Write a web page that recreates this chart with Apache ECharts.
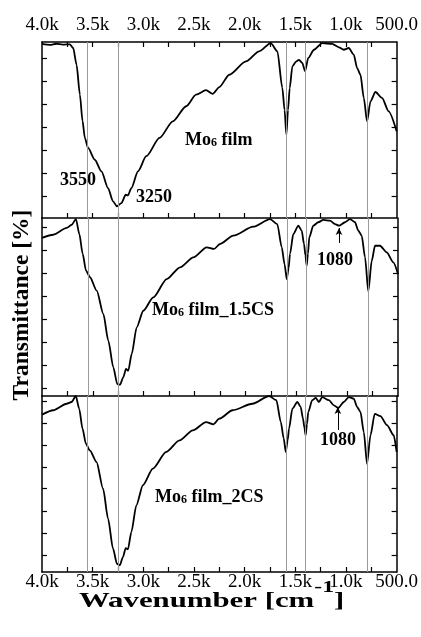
<!DOCTYPE html>
<html>
<head>
<meta charset="utf-8">
<script src="https://cdn.jsdelivr.net/npm/echarts@6/dist/echarts.min.js"></script>
<style>
  html, body { margin: 0; padding: 0; background: #fff; }
  #chart { width: 421px; height: 637px; }
</style>
</head>
<body>
<div id="chart"></div>
<script>
// Mo6 film
const filmWn = [4000, 3920, 3860, 3795, 3725, 3692, 3659, 3626, 3600, 3577,
  3545, 3479, 3413, 3348, 3299, 3260, 3216, 3174, 3152, 3118,
  3053, 2971, 2840, 2709, 2577, 2479, 2381, 2316, 2250, 2152,
  1987, 1857, 1742, 1677, 1628, 1606, 1588, 1572, 1555, 1529,
  1490, 1463, 1431, 1404, 1372, 1316, 1234, 1136, 1070, 1021,
  972, 923, 890, 857, 824, 792, 758, 709, 644, 579, 500]
const filmT = [98.9, 98.4, 99.0, 98.5, 98.7, 96.6, 87.1, 70.1, 55.1, 45.5,
  39.8, 33.1, 26.5, 17.0, 9.5, 6.6, 8.5, 13.2, 12.9, 17.0,
  26.5, 35.1, 45.5, 54.9, 63.5, 70.1, 72.6, 70.5, 74.4, 81.4,
  89.0, 94.7, 99.4, 94.7, 73.9, 61.4, 47.3, 61.4, 73.9, 86.2,
  89.0, 89.9, 88.1, 83.4, 90.9, 95.6, 99.4, 98.9, 97.0, 95.6,
  96.6, 92.8, 85.2, 81.4, 68.2, 54.9, 66.3, 71.6, 68.2, 60.6, 49.3]

// Mo6 film_1.5CS
const cs15Wn = [4000, 3889, 3757, 3708, 3666, 3633, 3600, 3567, 3528, 3462,
  3397, 3348, 3299, 3260, 3233, 3201, 3174, 3152, 3118, 3069,
  3004, 2906, 2774, 2643, 2512, 2381, 2309, 2250, 2119, 1923,
  1758, 1687, 1643, 1615, 1594, 1575, 1562, 1529, 1480, 1447,
  1424, 1410, 1398, 1385, 1372, 1333, 1284, 1234, 1169, 1119,
  1080, 1021, 972, 923, 890, 857, 824, 792, 758, 726,
  677, 611, 546, 500]
const cs15T = [88.8, 90.6, 94.4, 96.2, 99.4, 91.0, 79.8, 70.4, 66.7, 59.2,
  46.1, 31.1, 16.1, 6.7, 6.3, 10.5, 15.2, 14.2, 23.6, 38.6,
  47.9, 55.4, 65.7, 72.3, 77.9, 83.5, 82.6, 85.4, 90.1, 95.1,
  99.4, 96.6, 83.5, 74.0, 65.7, 72.0, 79.8, 91.0, 95.7, 92.9,
  85.4, 79.0, 73.2, 80.0, 89.2, 95.7, 97.6, 98.9, 98.5, 96.6,
  95.7, 97.6, 99.4, 97.6, 92.9, 90.1, 77.9, 58.8, 76.0, 84.4,
  84.4, 80.7, 75.1, 68.5]

// Mo6 film_2CS
const cs2Wn = [4000, 3889, 3757, 3708, 3666, 3633, 3600, 3567, 3528, 3462,
  3397, 3348, 3299, 3260, 3233, 3201, 3174, 3152, 3118, 3069,
  3004, 2906, 2774, 2643, 2512, 2381, 2309, 2250, 2119, 1923,
  1758, 1687, 1643, 1615, 1594, 1575, 1562, 1529, 1480, 1447,
  1424, 1410, 1398, 1385, 1372, 1333, 1299, 1267, 1234, 1169,
  1119, 1077, 1021, 972, 923, 890, 857, 824, 792, 758,
  716, 660, 595, 529, 500]
const cs2T = [89.4, 91.9, 95.6, 96.6, 100, 92.8, 81.4, 72.9, 69.1, 62.5,
  47.3, 30.3, 13.2, 4.7, 3.8, 8.5, 13.6, 12.9, 22.7, 37.9,
  49.3, 58.7, 68.2, 74.8, 80.5, 85.2, 83.9, 87.1, 91.9, 95.6,
  100, 97.6, 85.2, 76.0, 68.2, 75.0, 81.4, 92.8, 96.6, 93.8,
  87.1, 82.0, 77.7, 84.0, 90.9, 97.6, 98.9, 96.6, 99.4, 97.6,
  94.7, 93.2, 96.6, 99.4, 98.5, 93.8, 90.9, 79.5, 61.5, 77.7,
  89.9, 88.6, 83.4, 77.7, 68.2]

// band guide lines and arrows
const bandLines = [3550, 3250, 1590, 1400, 790]
const cs15Arrow = [[1080, 86.0], [1080, 94.4]]
const cs2Arrow = [[1080, 80.7], [1080, 93.8]]

// tick labels / tick positions
const xLabels = [4000, 3500, 3000, 2500, 2000, 1500, 1000, 500]
const xTicks = [3750, 3500, 3250, 3000, 2750, 2500, 2250, 2000, 1750, 1500, 1250, 1000, 750]
const filmTicks = [12.5, 25.6, 38.6, 51.7, 64.8, 77.8, 90.9]
const cs15Ticks = [4.5, 17.4, 30.3, 43.2, 56.1, 69.0, 81.9, 94.8]
const cs2Ticks = [9.7, 22.2, 34.7, 47.7, 59.7, 72.2, 84.7, 97.2]

const serif = "'Liberation Serif', 'Times New Roman', serif"
const chart = echarts.init(document.getElementById('chart'))

const fmtWn = v => v >= 1000 ? (v / 1000).toFixed(1) + 'k' : v.toFixed(1)
const zip = (xs, ys) => xs.map((x, i) => [x, ys[i]])

const xAxisFor = (gridIndex, position, showLabel) => ({
  type: 'value', gridIndex, position, inverse: true, min: 500, max: 4000,
  axisLine: { show: true, onZero: false, lineStyle: { color: '#000', width: 1.5 } },
  axisTick: { show: true, inside: true, length: 5, customValues: xTicks, lineStyle: { color: '#000', width: 1.2 } },
  axisLabel: {
    show: showLabel, customValues: xLabels, formatter: fmtWn,
    fontFamily: serif, fontSize: 19, color: '#000', margin: position === 'top' ? 7 : 1
  },
  splitLine: { show: false }
})

const yAxisFor = (gridIndex, position, ticks) => ({
  type: 'value', gridIndex, position, min: 0, max: 100,
  axisLine: { show: true, onZero: false, lineStyle: { color: '#000', width: 1.5 } },
  axisTick: { show: true, inside: true, length: 5, customValues: ticks, lineStyle: { color: '#000', width: 1.2 } },
  axisLabel: { show: false },
  splitLine: { show: false }
})

const guideLines = (arrow) => {
  const data = bandLines.map(v => ({ xAxis: v }))
  if (arrow) {
    data.push([
      { coord: arrow[0], symbol: 'none', lineStyle: { color: '#000', width: 1 } },
      { coord: arrow[1], symbol: 'arrow', symbolSize: [5, 7] }
    ])
  }
  return {
    silent: true, symbol: 'none', animation: false,
    label: { show: false },
    lineStyle: { color: '#9a9a9a', width: 1, type: 'solid' },
    data
  }
}

const spectrum = (name, idx, xIdx, data, arrow) => ({
  name, type: 'line', xAxisIndex: xIdx, yAxisIndex: idx * 2,
  data, showSymbol: false, smooth: 0.25, smoothMonotone: 'x',
  lineStyle: { color: '#000', width: 1.8 },
  markLine: guideLines(arrow)
})

const panelLabel = (left, top, sample) => ({
  type: 'text', left, top,
  style: {
    text: '{b|Mo}{s|6}{b| film' + sample + '}',
    fill: '#000',
    rich: {
      b: { fontFamily: serif, fontWeight: 'bold', fontSize: 18, lineHeight: 28, verticalAlign: 'bottom' },
      s: { fontFamily: serif, fontWeight: 'bold', fontSize: 12, lineHeight: 12, verticalAlign: 'bottom' }
    }
  }
})

const note = (left, top, text) => ({
  type: 'text', left, top,
  style: { text, fill: '#000', font: 'bold 18px ' + serif }
})

const option = {
  animation: false,
  backgroundColor: '#fff',
  grid: [
    { left: 42, right: 23, top: 42, height: 176 },
    { left: 42, right: 23, top: 218, height: 178 },
    { left: 42, right: 23, top: 396, height: 176 }
  ],
  xAxis: [
    xAxisFor(0, 'bottom', false),
    xAxisFor(0, 'top', true),
    xAxisFor(1, 'bottom', false),
    xAxisFor(2, 'bottom', true)
  ],
  yAxis: [
    yAxisFor(0, 'left', filmTicks), yAxisFor(0, 'right', filmTicks),
    yAxisFor(1, 'left', cs15Ticks), yAxisFor(1, 'right', cs15Ticks),
    yAxisFor(2, 'left', cs2Ticks), yAxisFor(2, 'right', cs2Ticks)
  ],
  series: [
    spectrum('Mo6 film', 0, 0, zip(filmWn, filmT)),
    spectrum('Mo6 film_1.5CS', 1, 2, zip(cs15Wn, cs15T), cs15Arrow),
    spectrum('Mo6 film_2CS', 2, 3, zip(cs2Wn, cs2T), cs2Arrow)
  ],
  graphic: [
    panelLabel(185, 131, ''),
    panelLabel(152, 301, '_1.5CS'),
    panelLabel(155, 488, '_2CS'),
    note(60, 171, '3550'),
    note(136, 188, '3250'),
    note(317, 251, '1080'),
    note(320, 431, '1080'),
    {
      type: 'text', x: 22, y: 305, rotation: Math.PI / 2,
      style: {
        text: 'Transmittance [%]', fill: '#000', font: 'bold 23.5px ' + serif,
        align: 'center', verticalAlign: 'middle', textAlign: 'center', textVerticalAlign: 'middle'
      }
    },
    {
      type: 'text', x: 79, y: 572, scaleX: 1.4,
      style: {
        text: '{m|Wavenumber [cm}{p|-1}{m|]}', fill: '#000',
        rich: {
          m: { fontFamily: serif, fontWeight: 'bold', fontSize: 22, lineHeight: 40, verticalAlign: 'bottom' },
          p: { fontFamily: serif, fontWeight: 'bold', fontSize: 17, lineHeight: 17, verticalAlign: 'top', padding: [7, 0, 0, 0] }
        }
      }
    }
  ]
}

chart.setOption(option)
</script>
</body>
</html>
